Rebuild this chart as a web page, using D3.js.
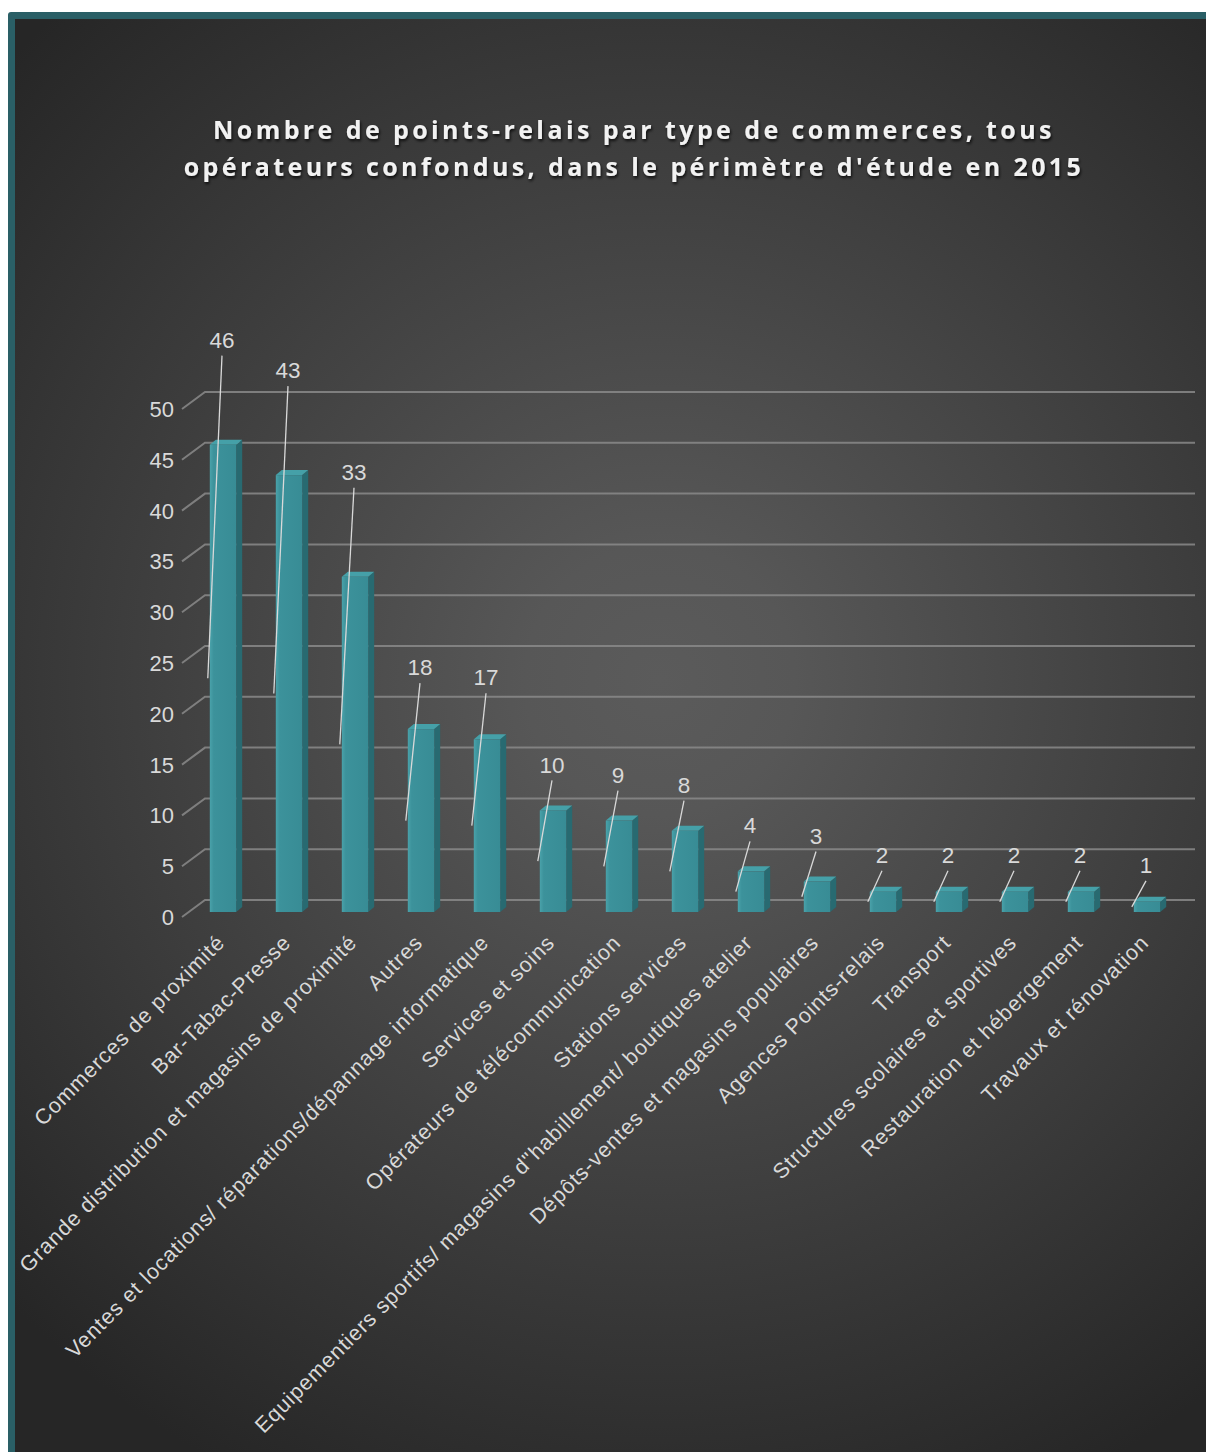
<!DOCTYPE html>
<html lang="fr">
<head>
<meta charset="utf-8">
<title>Points-relais par type de commerces</title>
<script src="https://d3js.org/d3.v7.min.js"></script>
<style>
  html, body { margin: 0; padding: 0; background: #ffffff; }
  svg { display: block; }
  .title { font-family: "Open Sans", sans-serif; font-weight: bold; font-size: 25px; letter-spacing: 3.4px; fill: #f2f2f2; }
  .tick-label, .value-label, .cat-label { font-family: "Liberation Sans", Arial, sans-serif; fill: #d9d9d9; }
  .cat-label { letter-spacing: 0.9px; }
</style>
</head>
<body>
<script>
// data
var categories = [
  "Commerces de proximité",
  "Bar-Tabac-Presse",
  "Grande distribution et magasins de proximité",
  "Autres",
  "Ventes et locations/ réparations/dépannage informatique",
  "Services et soins",
  "Opérateurs de télécommunication",
  "Stations services",
  "Equipementiers sportifs/ magasins d\"habillement/ boutiques atelier",
  "Dépôts-ventes et magasins populaires",
  "Agences Points-relais",
  "Transport",
  "Structures scolaires et sportives",
  "Restauration et hébergement",
  "Travaux et rénovation"
];
var counts = [46, 43, 33, 18, 17, 10, 9, 8, 4, 3, 2, 2, 2, 2, 1];
var yTicks = [0, 5, 10, 15, 20, 25, 30, 35, 40, 45, 50];
var titleLines = [
  "Nombre de points-relais par type de commerces, tous",
  "opérateurs confondus, dans le périmètre d'étude en 2015"
];

var W = 1206, H = 1452;

// pseudo 3D offsets
var floor = { dx: -23, dy: 17 };   // back wall -> front edge of floor
var front = { dx: -15, dy: 12 };   // back wall -> front face of bars
var depth = { dx: 6, dy: -5 };     // thickness of a bar

var svg = d3.select("body").append("svg")
    .attr("width", W)
    .attr("height", H);

var defs = svg.append("defs");

var bg = defs.append("radialGradient")
    .attr("id", "bg")
    .attr("gradientUnits", "userSpaceOnUse")
    .attr("cx", 660).attr("cy", 680).attr("r", 900);
bg.append("stop").attr("offset", "0").attr("stop-color", "#5b5b5b");
bg.append("stop").attr("offset", "0.15").attr("stop-color", "#575757");
bg.append("stop").attr("offset", "1").attr("stop-color", "#262626");

var faceGrad = defs.append("linearGradient").attr("id", "face")
    .attr("x1", 0).attr("x2", 1).attr("y1", 0).attr("y2", 0);
faceGrad.append("stop").attr("offset", "0").attr("stop-color", "#4aa2aa");
faceGrad.append("stop").attr("offset", "0.15").attr("stop-color", "#3c929b");
faceGrad.append("stop").attr("offset", "1").attr("stop-color", "#388c95");

var shadow = defs.append("filter").attr("id", "shadow")
    .attr("x", "-5%").attr("y", "-30%").attr("width", "110%").attr("height", "160%");
shadow.append("feDropShadow")
    .attr("dx", 1).attr("dy", 2).attr("stdDeviation", 1.5)
    .attr("flood-color", "#000").attr("flood-opacity", 0.8);

// frame + background
svg.append("rect")
    .attr("x", 8).attr("y", 12)
    .attr("width", W).attr("height", H)
    .attr("rx", 3)
    .attr("fill", "#2a5f66");
svg.append("rect")
    .attr("x", 15).attr("y", 19)
    .attr("width", W).attr("height", H)
    .attr("fill", "url(#bg)");

// title
svg.append("g").selectAll("text")
    .data(titleLines)
    .enter().append("text")
    .attr("class", "title")
    .attr("x", 634)
    .attr("y", function(d, i) { return 139 + i * 37; })
    .attr("text-anchor", "middle")
    .attr("filter", "url(#shadow)")
    .text(function(d) { return d; });

// scales
var x = d3.scaleBand()
    .domain(categories)
    .range([205, 1195])
    .paddingInner(0.6)
    .paddingOuter(0.3);

var y = d3.scaleLinear()
    .domain([0, 50])
    .range([900, 392]);

// gridlines: back wall + diagonal floor edge
var grid = svg.append("g")
    .attr("stroke", "#8a8a8a")
    .attr("stroke-width", 2)
    .attr("stroke-opacity", 0.85)
    .attr("fill", "none");

grid.selectAll("path")
    .data(yTicks)
    .enter().append("path")
    .attr("d", function(v) {
      var x0 = x.range()[0], x1 = x.range()[1], yy = y(v);
      return "M" + (x0 + floor.dx) + "," + (yy + floor.dy) + "L" + x0 + "," + yy + "H" + x1;
    });

// y tick labels
svg.append("g").selectAll("text")
    .data(yTicks)
    .enter().append("text")
    .attr("class", "tick-label")
    .attr("x", x.range()[0] + floor.dx - 8)
    .attr("y", function(v) { return y(v) + floor.dy; })
    .attr("dy", "0.36em")
    .attr("text-anchor", "end")
    .attr("font-size", 22)
    .text(function(v) { return v; });

// bars
var bw = x.bandwidth();
var bars = svg.append("g").selectAll("g")
    .data(counts)
    .enter().append("g")
    .attr("transform", function(d, i) {
      return "translate(" + (x(categories[i]) + front.dx) + "," + front.dy + ")";
    });

bars.append("path")  // side
    .attr("fill", "#286a71")
    .attr("d", function(v) {
      var t = y(v), b = y(0);
      return "M" + bw + "," + t + "l" + depth.dx + "," + depth.dy +
             "V" + (b + depth.dy) + "l" + (-depth.dx) + "," + (-depth.dy) + "Z";
    });

bars.append("path")  // top
    .attr("fill", "#45a0a8")
    .attr("d", function(v) {
      var t = y(v);
      return "M0," + t + "l" + depth.dx + "," + depth.dy + "h" + bw +
             "l" + (-depth.dx) + "," + (-depth.dy) + "Z";
    });

bars.append("rect")  // front
    .attr("x", 0)
    .attr("y", function(v) { return y(v); })
    .attr("width", bw)
    .attr("height", function(v) { return y(0) - y(v); })
    .attr("fill", "url(#face)");

// data labels with leader lines
function lift(v) {
  if (v >= 30) return 105;
  if (v >= 15) return 62;
  if (v >= 3) return 46;
  return 37;
}

var labels = svg.append("g");
counts.forEach(function(v, i) {
  var left = x(categories[i]) + front.dx;
  var topY = y(v) + front.dy;
  var ly = topY - lift(v);
  var lx = left + bw / 2 - 1;
  labels.append("line")
      .attr("x1", lx).attr("y1", ly + 16)
      .attr("x2", left - 2).attr("y2", (topY + y(0) + front.dy) / 2)
      .attr("stroke", "#d9d9d9")
      .attr("stroke-width", 1.3);
  labels.append("text")
      .attr("class", "value-label")
      .attr("x", lx)
      .attr("y", ly)
      .attr("dy", "0.36em")
      .attr("text-anchor", "middle")
      .attr("font-size", 22.5)
      .text(v);
});

// category labels
svg.append("g").selectAll("text")
    .data(categories)
    .enter().append("text")
    .attr("class", "cat-label")
    .attr("font-size", 21.5)
    .attr("text-anchor", "end")
    .attr("transform", function(d) {
      var cx = x(d) + front.dx + bw / 2 + 3;
      return "translate(" + cx + ",944) rotate(-45)";
    })
    .text(function(d) { return d; });
</script>
</body>
</html>
